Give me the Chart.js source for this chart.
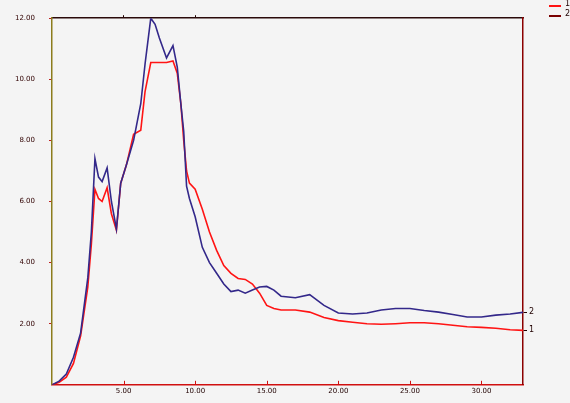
<!DOCTYPE html>
<html>
<head>
<meta charset="utf-8">
<script src="https://cdn.jsdelivr.net/npm/chart.js@4"></script>
<style>
  html, body { margin: 0; padding: 0; background: #f4f4f4; }
  #wrap { width: 570px; height: 403px; position: relative; }
</style>
</head>
<body>
<div id="wrap"><canvas id="curveChart"></canvas></div>
<script>
// valores
const xValues = [0, 0.5, 1, 1.5, 2, 2.5, 2.75, 3, 3.25, 3.5, 3.85, 4.15, 4.5, 4.8, 5.2, 5.7, 6.2, 6.5, 6.9, 7.2, 7.5, 8.0, 8.45, 8.75, 9.0, 9.2, 9.4, 9.6, 10, 10.5, 11, 11.5, 12, 12.5, 13, 13.5, 14, 14.5, 15, 15.5, 16, 17, 18, 19, 20, 21, 22, 23, 24, 25, 26, 27, 28, 29, 30, 31, 32, 32.9];
const serie1 = [0, 0.08, 0.25, 0.7, 1.6, 3.2, 4.6, 6.4, 6.1, 6.0, 6.45, 5.6, 5.06, 6.6, 7.2, 8.2, 8.33, 9.6, 10.55, 10.55, 10.55, 10.55, 10.6, 10.2, 9.2, 8.0, 7.0, 6.6, 6.4, 5.75, 5.0, 4.4, 3.9, 3.65, 3.48, 3.45, 3.3, 3.0, 2.6, 2.5, 2.45, 2.45, 2.38, 2.2, 2.1, 2.05, 2.0, 1.98, 2.0, 2.03, 2.03, 2.0, 1.95, 1.9, 1.88, 1.85, 1.8, 1.78];
const serie2 = [0, 0.12, 0.35, 0.9, 1.7, 3.5, 5.0, 7.4, 6.8, 6.65, 7.1, 6.0, 5.1, 6.6, 7.2, 8.0, 9.2, 10.5, 12.0, 11.8, 11.35, 10.7, 11.1, 10.4, 9.2, 8.3, 6.5, 6.1, 5.5, 4.5, 4.0, 3.65, 3.3, 3.05, 3.1, 3.0, 3.1, 3.2, 3.22, 3.1, 2.9, 2.85, 2.95, 2.6, 2.35, 2.32, 2.35, 2.45, 2.5, 2.5, 2.43, 2.38, 2.3, 2.22, 2.22, 2.28, 2.32, 2.37];
const seriesLabels = ['1', '2'];
const yTicks = [2, 4, 6, 8, 10, 12];
const xTicks = [5, 10, 15, 20, 25, 30];

const toPoints = (ys) => xValues.map((x, i) => ({ x: x, y: ys[i] }));

// fundo cinza claro em todo o canvas
const fundo = {
    id: 'fundo',
    beforeDraw(chart) {
        const c = chart.ctx;
        c.save();
        c.fillStyle = '#f4f4f4';
        c.fillRect(0, 0, chart.width, chart.height);
        c.restore();
    }
};

// legenda pequena no canto superior direito + marcas do eixo x para dentro
const legenda = {
    id: 'legenda',
    afterDraw(chart) {
        const c = chart.ctx;
        const sx = chart.scales.x;
        c.save();
        c.strokeStyle = '#d01010';
        c.lineWidth = 1;
        xTicks.forEach(v => {
            const px = Math.round(sx.getPixelForValue(v)) + 0.5;
            c.beginPath();
            c.moveTo(px, sx.top);
            c.lineTo(px, sx.top - 4);
            c.stroke();
        });
        c.font = '8px "DejaVu Sans"';
        c.textBaseline = 'middle';
        chart.data.datasets.forEach((ds, i) => {
            const y = 6 + i * 10;
            c.strokeStyle = i === 0 ? ds.borderColor : '#7a0000';
            c.lineWidth = 2;
            c.beginPath();
            c.moveTo(549, y);
            c.lineTo(561, y);
            c.stroke();
            c.fillStyle = '#200000';
            c.fillText(ds.label, 565, y - 2);
        });
        c.restore();
    }
};

const ctx = document.getElementById('curveChart');
new Chart(ctx, {
    type: 'line',
    data: {
        datasets: [{
            label: seriesLabels[0],
            data: toPoints(serie1),
            borderColor: '#ff1414',
            borderWidth: 1.6,
            pointRadius: 0,
            tension: 0,
            order: 2
        }, {
            label: seriesLabels[1],
            data: toPoints(serie2),
            borderColor: '#33288a',
            borderWidth: 1.6,
            pointRadius: 0,
            tension: 0,
            order: 1
        }]
    },
    options: {
        responsive: true,
        maintainAspectRatio: false,
        animation: false,
        layout: { padding: 0 },
        plugins: {
            legend: { display: false },
            tooltip: { enabled: false }
        },
        scales: {
            x: {
                type: 'linear',
                position: 'bottom',
                min: 0,
                max: 32.9,
                afterBuildTicks: (s) => { s.ticks = xTicks.map(v => ({ value: v })); },
                afterFit: (s) => { s.height = 13; },
                grid: { display: true, drawOnChartArea: false, drawTicks: false, color: '#d01010' },
                border: { color: '#d01010', width: 1.5 },
                ticks: {
                    padding: 2,
                    maxRotation: 0,
                    color: '#200000',
                    font: { size: 7, family: '"DejaVu Sans"' },
                    callback: (v) => v.toFixed(2)
                }
            },
            xTop: {
                type: 'linear',
                position: 'top',
                min: 0,
                max: 32.9,
                afterBuildTicks: (s) => { s.ticks = [{ value: 5 }, { value: 10 }]; },
                afterFit: (s) => { s.height = 11; },
                grid: { drawOnChartArea: false, tickLength: 3, color: '#200000' },
                border: { color: '#2a0a0a', width: 1.5 },
                ticks: { display: false }
            },
            y: {
                min: 0,
                max: 12,
                afterBuildTicks: (s) => { s.ticks = yTicks.map(v => ({ value: v })); },
                afterFit: (s) => { s.width = 52; },
                grid: { drawOnChartArea: false, tickLength: 3, color: '#c02020' },
                border: { color: '#8c7c1c', width: 1.5 },
                ticks: {
                    padding: 14,
                    color: '#300000',
                    font: { size: 7, family: '"DejaVu Sans"' },
                    callback: (v) => v.toFixed(2)
                }
            },
            yRight: {
                position: 'right',
                min: 0,
                max: 12,
                afterBuildTicks: (s) => {
                    s.ticks = [
                        { value: serie2[serie2.length - 1] },
                        { value: serie1[serie1.length - 1] }
                    ];
                },
                afterFit: (s) => { s.width = 47; },
                grid: { drawOnChartArea: false, tickLength: 4, color: '#200000' },
                border: { color: '#8b0000', width: 1.5 },
                ticks: {
                    padding: 2,
                    color: '#200000',
                    font: { size: 8, family: '"DejaVu Sans"' },
                    callback: (v, i) => (i === 0 ? seriesLabels[1] : seriesLabels[0])
                }
            }
        }
    },
    plugins: [fundo, legenda]
});
</script>
</body>
</html>
